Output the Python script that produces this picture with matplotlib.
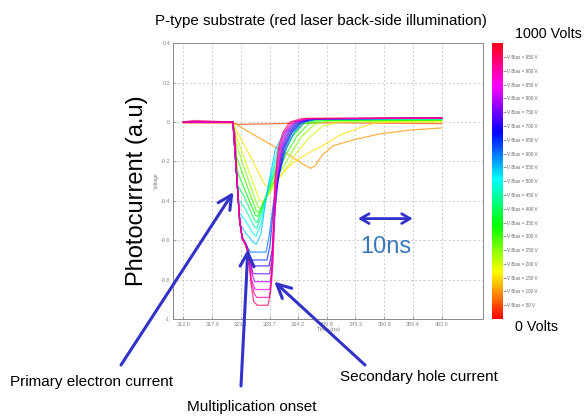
import matplotlib
matplotlib.use("Agg")
import matplotlib.pyplot as plt
from matplotlib import cm, colors

plt.rcParams["font.family"] = ["Liberation Sans", "DejaVu Sans"]

# Bias voltages (one trace each) and the colour scale range
voltages = [50, 100, 150, 200, 250, 300, 350, 400, 450, 500,
            550, 600, 650, 700, 750, 800, 850, 900, 950]
v_min, v_max = 0, 1000

# Traces: (time ns, signal) key points
trace_50 = [(312, -0.005), (321.5, -0.005), (322.5, -0.012), (330, -0.008), (340, -0.004), (362, -0.008)]
trace_100 = [(312, 0.0), (321.6, 0.0), (324, -0.04), (328, -0.10), (332, -0.16), (335, -0.21), (336.6, -0.235),
             (337.6, -0.22), (338.8, -0.17), (341, -0.12), (345, -0.09), (350, -0.06), (356, -0.04), (362, -0.03)]
trace_150 = [(312, 0.0), (321.6, 0.0), (322.0, -0.03), (324.5, -0.15), (327.8, -0.32), (328.8, -0.33), (330.5, -0.28),
             (333, -0.21), (336, -0.16), (339, -0.12), (342, -0.07), (346, -0.03), (349, -0.005), (353, 0.0), (362, 0.0)]
trace_200 = [(312, 0.0), (321.6, 0.0), (322.1, -0.06), (324.0, -0.20), (326.8, -0.40), (327.5, -0.41), (329, -0.35),
             (331.2, -0.26), (333.8, -0.16), (336.3, -0.08), (339, -0.02), (342, 0.0), (362, 0.005)]
trace_250 = [(312, 0.0), (321.6, 0.0), (322.25, -0.11), (324.0, -0.25), (326.4, -0.43), (327.0, -0.44), (328.3, -0.37),
             (330.4, -0.27), (332.8, -0.16), (335, -0.07), (337.5, -0.01), (340, 0.005), (362, 0.008)]
trace_300 = [(312, 0.0), (321.6, 0.0), (322.35, -0.18), (324.0, -0.30), (326.1, -0.45), (326.7, -0.46), (327.9, -0.39),
             (329.8, -0.28), (332.0, -0.16), (334.0, -0.07), (336.2, -0.01), (339, 0.008), (362, 0.01)]
trace_350 = [(312, 0.0), (321.6, 0.0), (322.45, -0.25), (324.0, -0.35), (325.9, -0.47), (326.4, -0.48), (327.6, -0.40),
             (329.4, -0.28), (331.4, -0.16), (333.2, -0.07), (335.2, -0.01), (338, 0.01), (362, 0.012)]
trace_400 = [(312, 0.0), (321.6, 0.0), (322.5, -0.32), (324.0, -0.39), (325.8, -0.50), (326.3, -0.51), (327.4, -0.43),
             (329.1, -0.29), (331.0, -0.15), (332.8, -0.06), (335.0, 0.0), (338, 0.012), (362, 0.014)]
trace_450 = [(312, 0.0), (321.6, 0.0), (322.65, -0.39), (324.0, -0.44), (325.7, -0.53), (326.2, -0.54), (327.3, -0.46),
             (328.9, -0.29), (330.6, -0.14), (332.4, -0.05), (334.6, 0.0), (337.5, 0.014), (362, 0.016)]
trace_500 = [(312, 0.0), (321.6, 0.0), (322.8, -0.46), (324.0, -0.50), (325.6, -0.57), (326.1, -0.58), (327.1, -0.51),
             (328.6, -0.31), (330.2, -0.14), (332.0, -0.05), (334.2, 0.0), (337, 0.015), (362, 0.018)]
trace_550 = [(312, 0.0), (321.6, 0.0), (323.0, -0.52), (324.0, -0.56), (325.5, -0.61), (326.1, -0.62), (327.0, -0.57),
             (328.3, -0.34), (329.8, -0.14), (331.6, -0.05), (333.8, 0.0), (336.5, 0.016), (362, 0.018)]
trace_600 = [(312, 0.0), (321.6, 0.0), (322.4, -0.30), (322.9, -0.50), (323.4, -0.58), (324.3, -0.63), (325.0, -0.66),
             (328.0, -0.66), (328.6, -0.58), (329.5, -0.40), (330.7, -0.25), (332.0, -0.13), (333.5, -0.05),
             (335.5, 0.0), (338, 0.016), (362, 0.02)]
trace_650 = [(312, 0.0), (321.6, 0.0), (322.4, -0.30), (322.9, -0.50), (323.4, -0.59), (324.3, -0.63), (325.0, -0.70),
             (328.2, -0.70), (328.8, -0.62), (329.5, -0.42), (330.5, -0.27), (331.7, -0.13), (333.1, -0.05),
             (335.0, 0.0), (337.5, 0.016), (362, 0.02)]
trace_700 = [(312, 0.0), (321.6, 0.0), (322.4, -0.30), (322.9, -0.50), (323.4, -0.59), (324.2, -0.63), (324.8, -0.68),
             (325.3, -0.73), (328.6, -0.73), (329.2, -0.65), (329.8, -0.43), (330.4, -0.28), (331.4, -0.13),
             (332.8, -0.05), (334.6, 0.0), (337, 0.016), (362, 0.02)]
trace_750 = [(312, 0.0), (321.6, 0.0), (322.4, -0.30), (322.9, -0.50), (323.4, -0.59), (324.1, -0.62), (324.7, -0.67),
             (325.5, -0.77), (328.7, -0.77), (329.2, -0.69), (329.7, -0.45), (330.2, -0.29), (331.2, -0.13),
             (332.5, -0.05), (334.2, 0.0), (337, 0.017), (362, 0.02)]
trace_800 = [(312, 0.0), (321.6, 0.0), (322.4, -0.30), (322.9, -0.50), (323.4, -0.59), (324.1, -0.62), (324.7, -0.67),
             (325.3, -0.77), (325.8, -0.81), (328.8, -0.81), (329.3, -0.73), (329.7, -0.48), (330.1, -0.30),
             (331.0, -0.13), (332.2, -0.05), (333.8, 0.0), (336.5, 0.017), (362, 0.02)]
trace_850 = [(312, 0.0), (321.6, 0.0), (322.4, -0.30), (322.9, -0.50), (323.4, -0.59), (324.0, -0.62), (324.6, -0.67),
             (325.2, -0.80), (325.9, -0.85), (328.7, -0.85), (329.2, -0.77), (329.6, -0.50), (329.9, -0.30),
             (330.8, -0.13), (331.9, -0.05), (333.4, 0.0), (336, 0.018), (362, 0.02)]
trace_900 = [(312, 0.0), (321.6, 0.0), (322.4, -0.30), (322.9, -0.50), (323.4, -0.59), (324.0, -0.62), (324.6, -0.67),
             (325.1, -0.80), (325.7, -0.87), (326.2, -0.89), (328.6, -0.89), (329.1, -0.81), (329.5, -0.52),
             (329.8, -0.30), (330.6, -0.13), (331.6, -0.05), (333.0, 0.0), (336, 0.018), (362, 0.02)]
trace_950 = [(312, 0.0), (314, 0.008), (321.5, 0.0), (322.0, -0.06), (322.4, -0.30), (322.9, -0.50), (323.4, -0.59),
             (324.0, -0.62), (324.6, -0.67), (325.1, -0.82), (325.6, -0.91), (326.3, -0.93), (328.4, -0.93),
             (328.9, -0.86), (329.3, -0.60), (329.7, -0.30), (330.4, -0.13), (331.3, -0.05), (332.6, 0.0),
             (335, 0.018), (362, 0.021)]

traces = [trace_50, trace_100, trace_150, trace_200, trace_250, trace_300, trace_350, trace_400, trace_450,
          trace_500, trace_550, trace_600, trace_650, trace_700, trace_750, trace_800, trace_850, trace_900,
          trace_950]

x_ticks = [312.0, 317.6, 323.1, 328.7, 334.2, 339.8, 345.3, 350.9, 356.4, 362.0]
x_tick_labels = ["312.0", "317.6", "323.1", "328.7", "334.2", "339.8", "345.3", "350.9", "356.4", "362.0"]
y_ticks = [-1, -0.8, -0.6, -0.4, -0.2, 0, 0.2, 0.4]
y_tick_labels = ["-1", "-0.8", "-0.6", "-0.4", "-0.2", "0", "0.2", "0.4"]

# Annotation arrows: tip on the curve (data) and tail (figure pixels)
arrow_tips = [(321.7, -0.355), (324.5, -0.645), (329.6, -0.81)]
arrow_tails = [(121, 51), (241, 30), (365, 51)]
arrow_color = "#3232c8"

fig = plt.figure(figsize=(5.85, 4.16), dpi=100)
ax = fig.add_axes([0.2957, 0.233, 0.530, 0.663])
cmap = plt.get_cmap("hsv")
norm = colors.Normalize(v_min, v_max)

for v, tr in zip(voltages, traces):
    ts = [p[0] for p in tr]
    ys = [p[1] for p in tr]
    ax.plot(ts, ys, color=cmap(norm(v)), lw=0.9, alpha=0.72)

ax.set_xlim(310, 370)
ax.set_ylim(-1, 0.4)
ax.set_xticks(x_ticks)
ax.set_xticklabels(x_tick_labels)
ax.set_yticks(y_ticks)
ax.set_yticklabels(y_tick_labels)
ax.tick_params(labelsize=4, colors="#888888", length=2, width=0.5, direction="in", pad=2)
ax.grid(True, linestyle=(0, (3, 3)), color="#bbbbbb", lw=0.5)
for s in ax.spines.values():
    s.set_color("#888888")
    s.set_linewidth(0.7)
ax.set_xlabel("Time (ns)", fontsize=4, color="#777777", labelpad=0)
ax.set_ylabel("Voltage", fontsize=3.5, color="#777777", labelpad=1)

# colour scale on the right
cax = fig.add_axes([0.841, 0.233, 0.0188, 0.663])
sm = cm.ScalarMappable(norm=norm, cmap=cmap)
cb = fig.colorbar(sm, cax=cax, ticks=voltages)
cb.ax.set_yticklabels([f"V Bias = {v} V" for v in voltages])
cb.ax.tick_params(labelsize=3.3, colors="#666666", length=2, width=0.5, pad=1)
cb.outline.set_visible(False)

# texts
fig.text(0.548, 0.950, "P-type substrate (red laser back-side illumination)", ha="center", va="center", fontsize=10.9)
fig.text(515 / 585, 1 - 34 / 416, "1000 Volts", ha="left", va="center", fontsize=10.3)
fig.text(515 / 585, 1 - 327 / 416, "0 Volts", ha="left", va="center", fontsize=10.3)
fig.text(137 / 585, 1 - 191 / 416, "Photocurrent (a.u)", rotation=90, ha="center", va="center", fontsize=17)
fig.text(10 / 585, 1 - 382 / 416, "Primary electron current", ha="left", va="center", fontsize=11)
fig.text(187 / 585, 1 - 407 / 416, "Multiplication onset", ha="left", va="center", fontsize=11)
fig.text(340 / 585, 1 - 377 / 416, "Secondary hole current", ha="left", va="center", fontsize=11)

for tip, tail in zip(arrow_tips, arrow_tails):
    ax.annotate("", xy=tip, xycoords="data", xytext=tail, textcoords="figure pixels",
                arrowprops=dict(arrowstyle="->,head_length=1.0,head_width=0.5", color=arrow_color,
                                lw=2.2, shrinkA=0, shrinkB=0, mutation_scale=10))

# 10 ns scale marker
ax.annotate("", xy=(356.4, -0.49), xytext=(345.8, -0.49),
            arrowprops=dict(arrowstyle="<->,head_length=0.6,head_width=0.35", color=arrow_color,
                            lw=2, shrinkA=0, shrinkB=0, mutation_scale=10))
ax.text(351.1, -0.635, "10ns", ha="center", va="center", fontsize=17, color="#3a78bd")

fig.savefig("out.png", dpi=100)
